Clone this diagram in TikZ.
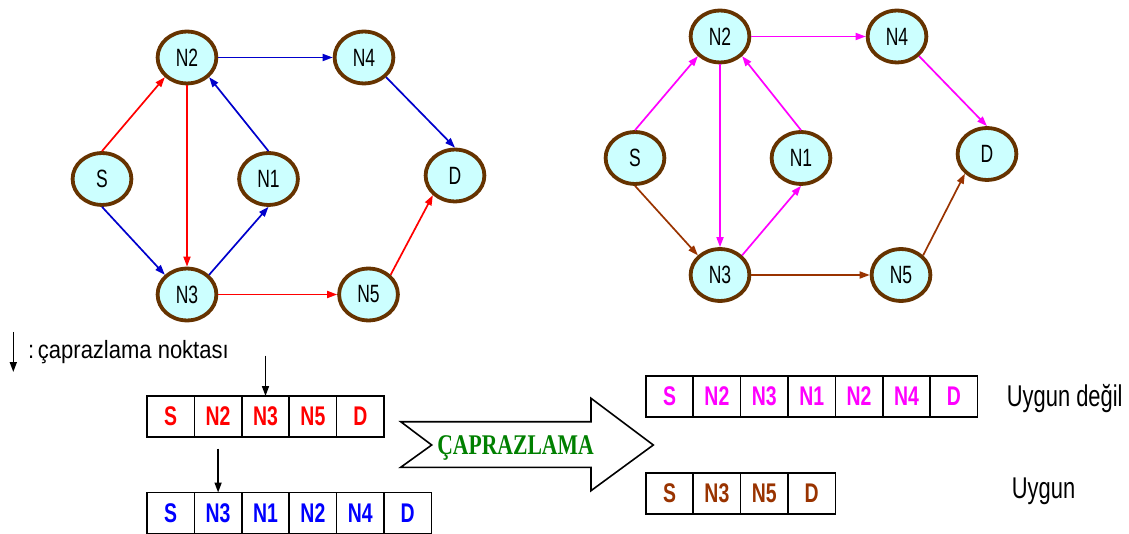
\documentclass[tikz,border=0pt]{standalone}
\usepackage{fontspec}
\usepackage{graphicx}
\setmainfont{Liberation Sans}
\newfontfamily\capfont{Liberation Serif}
\usetikzlibrary{shapes.geometric,arrows.meta,positioning}

\definecolor{nodefill}{RGB}{204,255,255}
\definecolor{nodeedge}{RGB}{102,51,0}
\definecolor{pred}{RGB}{255,0,0}
\definecolor{pblue}{RGB}{0,0,204}
\definecolor{tblue}{RGB}{0,0,255}
\definecolor{pmag}{RGB}{255,0,255}
\definecolor{pbrown}{RGB}{153,51,0}
\definecolor{capgreen}{RGB}{0,128,0}

% horizontally condensed text
\newcommand\vtxtext[1]{\scalebox{0.7}[1]{#1}}
\newcommand\celltext[1]{\scalebox{0.72}[1]{#1}}

\tikzset{
  vtx/.style={ellipse, draw=nodeedge, line width=3.8pt, fill=nodefill,
    minimum width=58.8pt, minimum height=51.9pt, inner sep=0pt,
    font=\fontsize{25}{25}\selectfont},
  link/.style={line width=1.7pt, -{Triangle[length=10pt,width=7pt]}},
  cell/.style={draw=black, line width=1.6pt, minimum width=47.4pt,
    minimum height=41pt, inner sep=0pt, outer sep=0pt,
    font=\fontsize{27}{27}\selectfont\bfseries},
  ptr/.style={black, line width=1.6pt, -{Triangle[length=10pt,width=7pt]}},
}

\begin{document}
\begin{tikzpicture}[x=1pt,y=-1pt]
\useasboundingbox (0,0) rectangle (1129,534);

% ---------- first network ----------
\node[vtx] (aS)  at (102,179)   {\vtxtext{S}};
\node[vtx] (aN2) at (187,57.5)  {\vtxtext{N2}};
\node[vtx] (aN1) at (268.5,179) {\vtxtext{N1}};
\node[vtx] (aN4) at (364,57.5)  {\vtxtext{N4}};
\node[vtx] (aD)  at (455,175.5) {\vtxtext{D}};
\node[vtx] (aN3) at (187,294.5) {\vtxtext{N3}};
\node[vtx] (aN5) at (368.5,294.5) {\vtxtext{N5}};

\draw[link,pred]  (aS.north) -- (aN2.south west);
\draw[link,pblue] (aS.south) -- (aN3.north west);
\draw[link,pred]  (aN2.south) -- (aN3.north);
\draw[link,pblue] (aN3.north east) -- (aN1.south);
\draw[link,pblue] (aN1.north) -- (aN2.south east);
\draw[link,pblue] (aN2.east) -- (aN4.west);
\draw[link,pblue] (aN4.south east) -- (aD.north);
\draw[link,pred]  (aN3.east) -- (aN5.west);
\draw[link,pred]  (aN5.north east) -- (aD.south west);

% ---------- second network ----------
\node[vtx] (bS)  at (635,158)   {\vtxtext{S}};
\node[vtx] (bN2) at (720,36.5)  {\vtxtext{N2}};
\node[vtx] (bN1) at (801,158)   {\vtxtext{N1}};
\node[vtx] (bN4) at (897,36.5)  {\vtxtext{N4}};
\node[vtx] (bD)  at (987,154)   {\vtxtext{D}};
\node[vtx] (bN3) at (720,275)   {\vtxtext{N3}};
\node[vtx] (bN5) at (901,275)   {\vtxtext{N5}};

\draw[link,pmag]   (bS.north) -- (bN2.south west);
\draw[link,pbrown] (bS.south) -- (bN3.north west);
\draw[link,pmag]   (bN2.south) -- (bN3.north);
\draw[link,pmag]   (bN3.north east) -- (bN1.south);
\draw[link,pmag]   (bN1.north) -- (bN2.south east);
\draw[link,pmag]   (bN2.east) -- (bN4.west);
\draw[link,pmag]   (bN4.south east) -- (bD.north);
\draw[link,pbrown] (bN3.east) -- (bN5.west);
\draw[link,pbrown] (bN5.north east) -- (bD.south west);

% ---------- legend ----------
\coordinate (lgtop) at (13.3,332);
\coordinate (lgbot) at (13.3,372);
\draw[ptr] (lgtop) -- (lgbot);
\node[anchor=base west, inner sep=0pt, font=\fontsize{25}{25}\selectfont]
  (lgtext) at (28,358.3) {\scalebox{0.88}[1]{:\,çaprazlama noktası}};

% ---------- parent chromosomes ----------
\node[cell, text=pred] (r1) at (170.7,416.5) {\celltext{S}};
\node[cell, text=pred, right=0pt of r1] (r2) {\celltext{N2}};
\node[cell, text=pred, right=0pt of r2] (r3) {\celltext{N3}};
\node[cell, text=pred, right=0pt of r3] (r4) {\celltext{N5}};
\node[cell, text=pred, right=0pt of r4] (r5) {\celltext{D}};

\node[cell, text=tblue] (q1) at (170.7,513) {\celltext{S}};
\node[cell, text=tblue, right=0pt of q1] (q2) {\celltext{N3}};
\node[cell, text=tblue, right=0pt of q2] (q3) {\celltext{N1}};
\node[cell, text=tblue, right=0pt of q3] (q4) {\celltext{N2}};
\node[cell, text=tblue, right=0pt of q4] (q5) {\celltext{N4}};
\node[cell, text=tblue, right=0pt of q5] (q6) {\celltext{D}};

% crossover points
\draw[ptr] ([yshift=40.5pt]r3.north) -- (r3.north);
\draw[ptr] ([yshift=44pt]q2.north) -- (q2.north);

% ---------- crossover arrow ----------
\draw[black, line width=1.6pt, fill=white, line join=miter]
  (400.7,421.7) -- (591,421.7) -- (591,398.3) -- (653.3,445)
  -- (591,490.7) -- (591,467.3) -- (400.7,467.3) -- (431.7,445) -- cycle;
\node[anchor=base, inner sep=0pt, text=capgreen,
  font=\capfont\bfseries\fontsize{28.5}{28.5}\selectfont]
  (cross) at (515.5,454) {\scalebox{0.76}[1]{ÇAPRAZLAMA}};

% ---------- offspring ----------
\node[cell, text=pmag] (m1) at (669.5,396.2) {\celltext{S}};
\node[cell, text=pmag, right=0pt of m1] (m2) {\celltext{N2}};
\node[cell, text=pmag, right=0pt of m2] (m3) {\celltext{N3}};
\node[cell, text=pmag, right=0pt of m3] (m4) {\celltext{N1}};
\node[cell, text=pmag, right=0pt of m4] (m5) {\celltext{N2}};
\node[cell, text=pmag, right=0pt of m5] (m6) {\celltext{N4}};
\node[cell, text=pmag, right=0pt of m6] (m7) {\celltext{D}};

\node[cell, text=pbrown] (w1) at (669.5,493.3) {\celltext{S}};
\node[cell, text=pbrown, right=0pt of w1] (w2) {\celltext{N3}};
\node[cell, text=pbrown, right=0pt of w2] (w3) {\celltext{N5}};
\node[cell, text=pbrown, right=0pt of w3] (w4) {\celltext{D}};

\node[anchor=base west, inner sep=0pt, font=\fontsize{30}{30}\selectfont]
  (bad) at (1006.7,406.7) {\scalebox{0.73}[1]{Uygun değil}};
\node[anchor=base west, inner sep=0pt, font=\fontsize{30}{30}\selectfont]
  (good) at (1011.7,498.3) {\scalebox{0.73}[1]{Uygun}};
\end{tikzpicture}
\end{document}
